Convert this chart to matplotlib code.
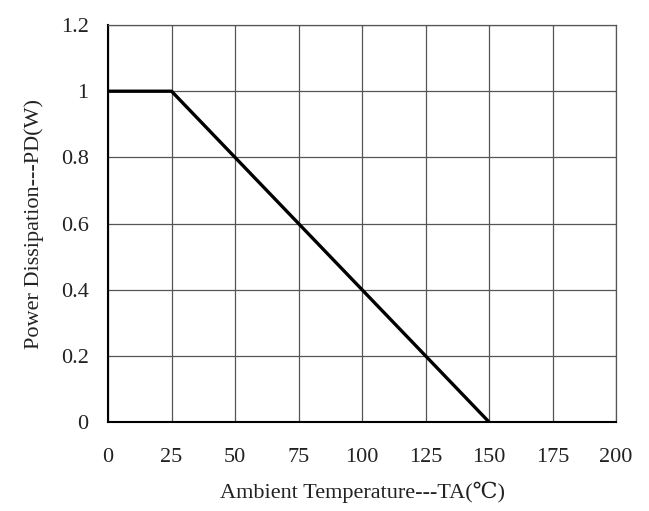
import matplotlib.pyplot as plt

plt.rcParams['font.family'] = ['Liberation Serif', 'DejaVu Serif', 'Noto Sans CJK SC']

temp = [0, 25, 150]
power = [1, 1, 0]

x_ticks = [0, 25, 50, 75, 100, 125, 150, 175, 200]
y_ticks = [0, 0.2, 0.4, 0.6, 0.8, 1.0, 1.2]
y_labels = ["0", "0.2", "0.4", "0.6", "0.8", "1", "1.2"]

fig = plt.figure(figsize=(6.49, 5.11), dpi=100)
ax = fig.add_axes([0.1664, 0.174, 0.783, 0.777])

ax.plot(temp, power, color="black", linewidth=2.4, solid_capstyle="butt", zorder=3)

ax.set_xlim(0, 200)
ax.set_ylim(0, 1.2)
ax.set_xticks(x_ticks)
ax.set_xticklabels([str(t) for t in x_ticks])
ax.set_yticks(y_ticks)
ax.set_yticklabels(y_labels)
ax.tick_params(length=0, labelsize=16, colors="#222222")
ax.tick_params(axis="y", pad=14)
ax.tick_params(axis="x", pad=19)

ax.grid(True, color="#555555", linewidth=0.9)
for side in ["top", "right"]:
    ax.spines[side].set_color("#555555")
    ax.spines[side].set_linewidth(0.9)
for side in ["left", "bottom"]:
    ax.spines[side].set_color("black")
    ax.spines[side].set_linewidth(1.5)

ax.set_xlabel("Ambient Temperature---TA(℃)", fontsize=16, labelpad=10, color="#222222")
ax.set_ylabel("Power Dissipation---PD(W)", fontsize=16, labelpad=12, color="#222222")

plt.savefig("out.png", dpi=100)
